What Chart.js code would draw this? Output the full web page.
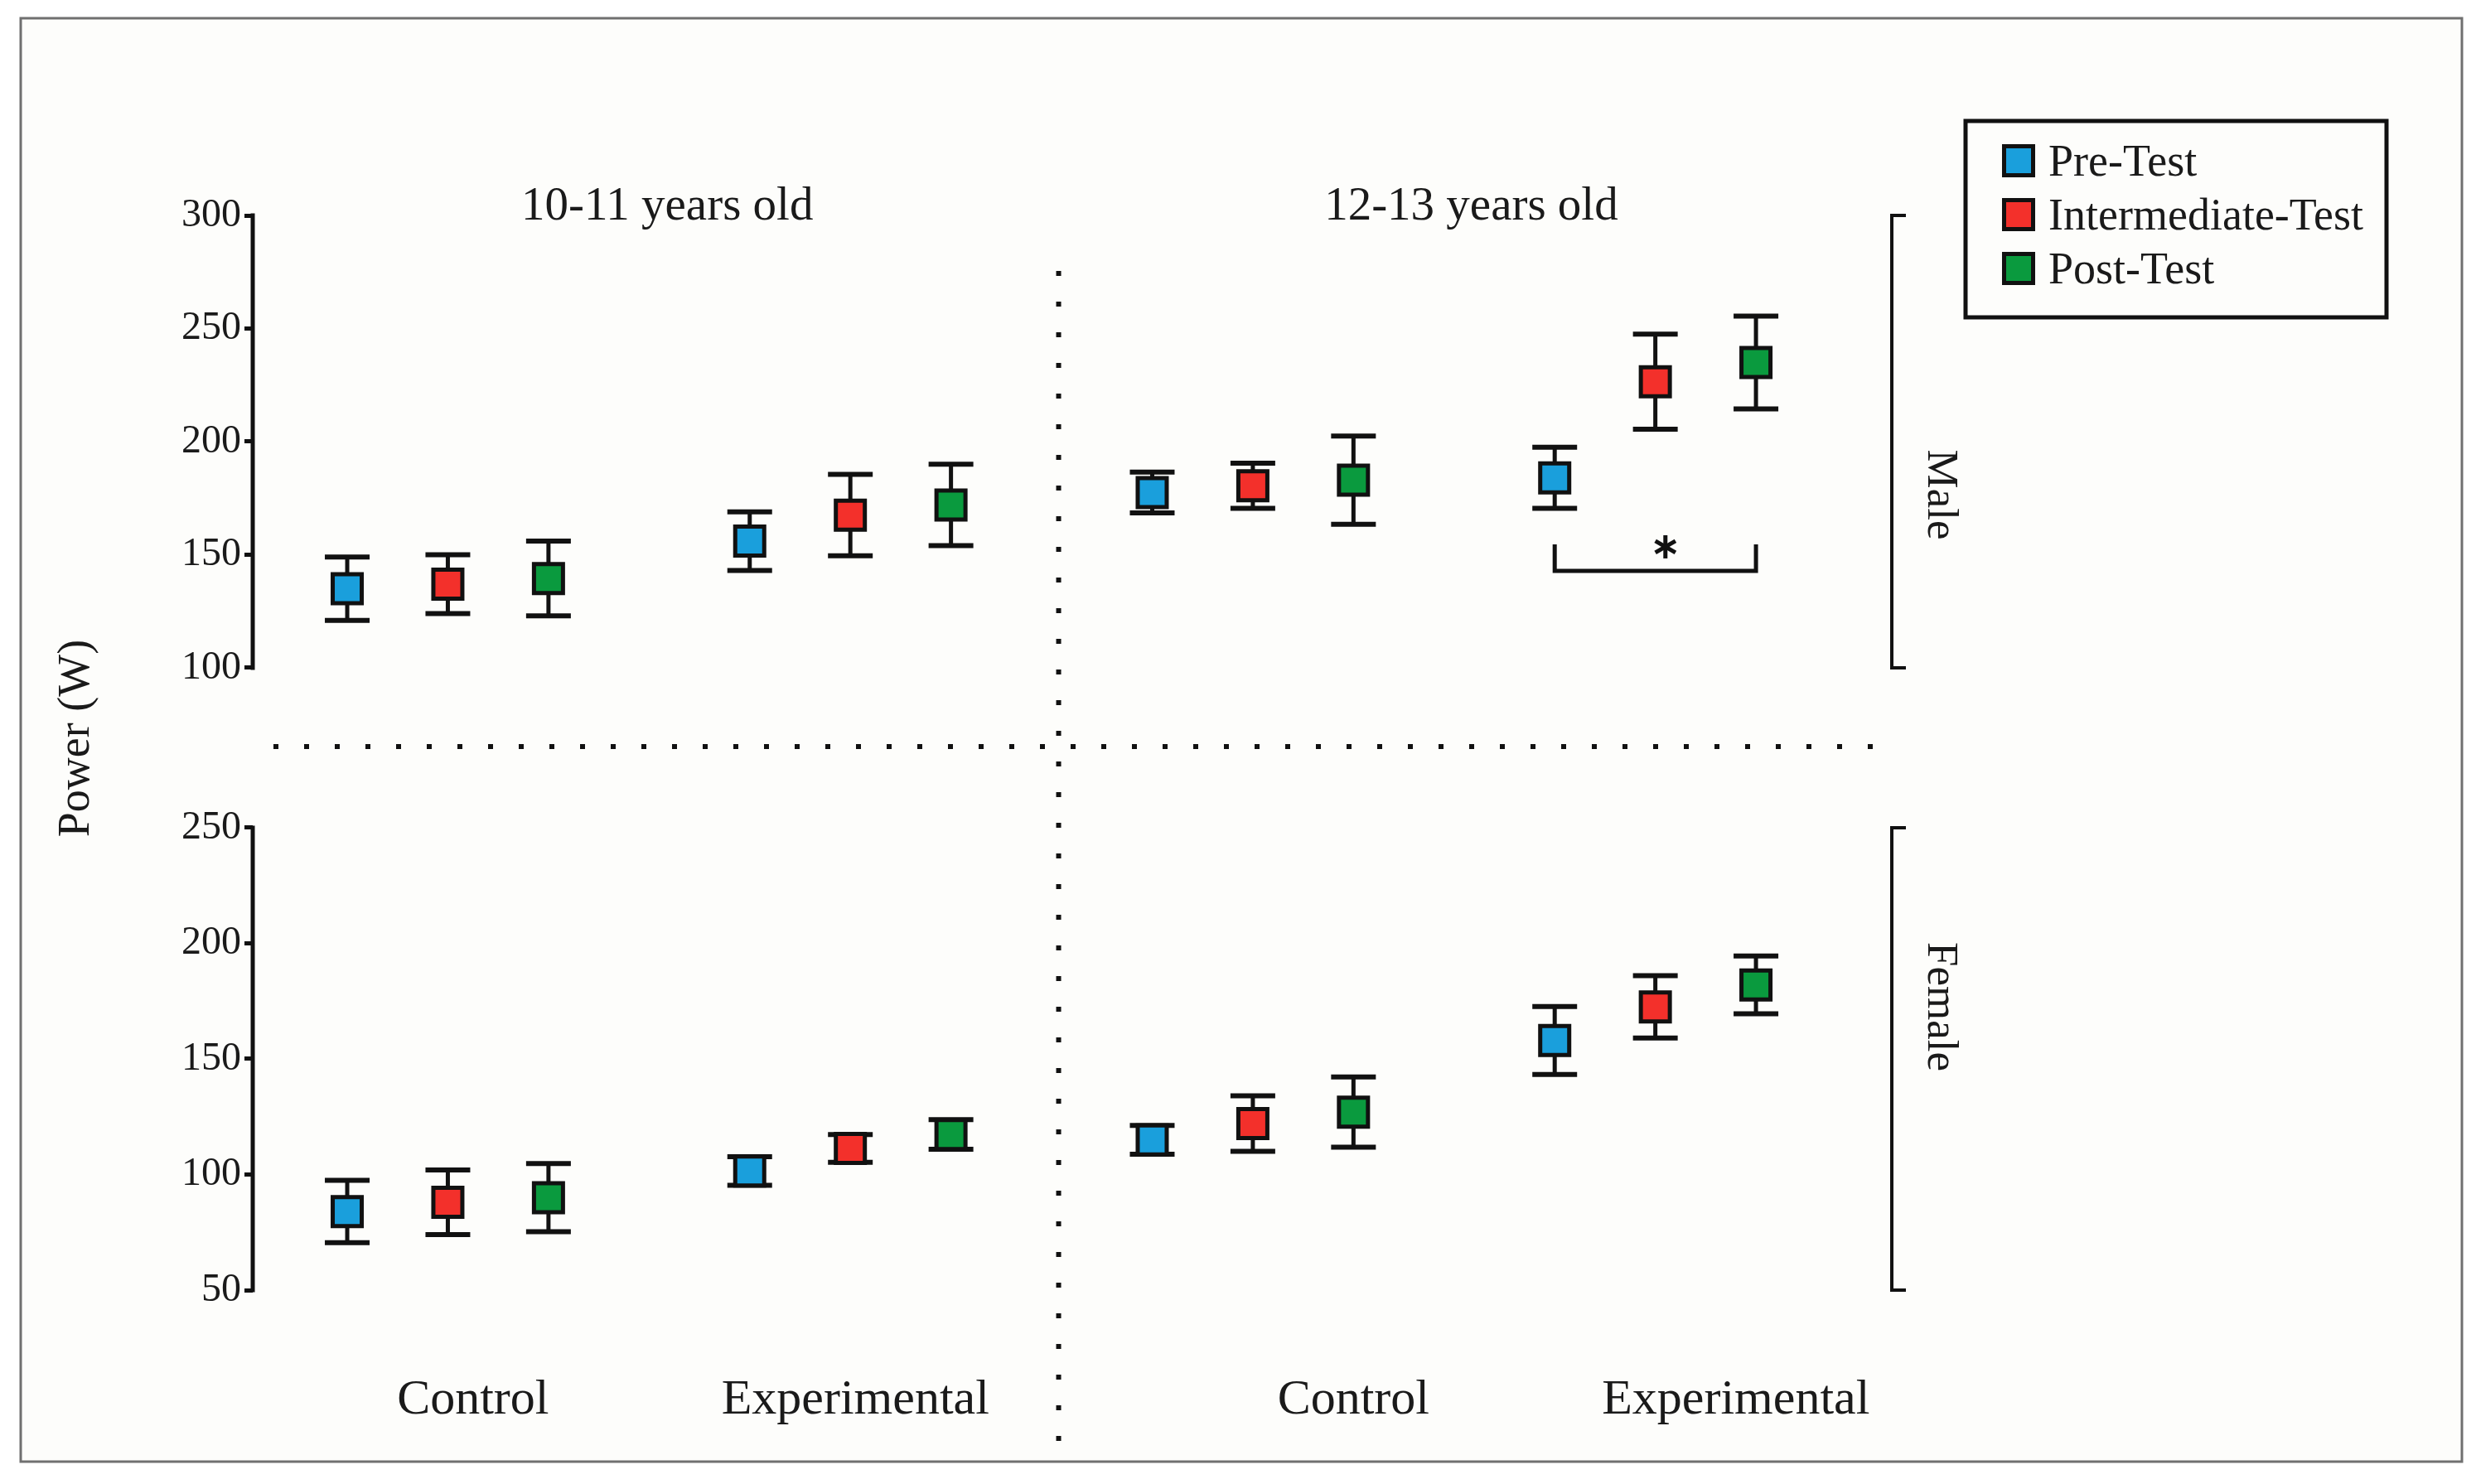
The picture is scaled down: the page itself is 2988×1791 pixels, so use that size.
<!DOCTYPE html>
<html lang="en">
<head>
  <meta charset="UTF-8" />
  <title>Power (W) by age group, sex and test</title>
  <script src="https://cdn.jsdelivr.net/npm/chart.js"></script>
  <style>
    html, body { margin: 0; padding: 0; background: #fff; }
    #wrap { width: 2988px; height: 1791px; position: relative; }
  </style>
</head>
<body>
<div id="wrap"><canvas id="powerChart"></canvas></div>

<script>
  // categories
  const ageGroups = ['10-11 years old', '12-13 years old'];
  const groups = ['Control', 'Experimental'];
  const tests = ['Pre-Test', 'Intermediate-Test', 'Post-Test'];
  const maleTicks = [100, 150, 200, 250, 300];
  const femaleTicks = [50, 100, 150, 200, 250];

  // order inside each array: 10-11 Control, 10-11 Experimental, 12-13 Control, 12-13 Experimental
  const malePre = [135, 156, 177.5, 184];
  const maleInt = [137, 167.5, 180.5, 226.5];
  const malePost = [139.5, 172, 183, 235];
  const maleSdPre = [14, 13, 9, 13.5];
  const maleSdInt = [13, 18, 10, 21];
  const maleSdPost = [16.5, 18, 19.5, 20.5];

  const femalePre = [84, 101.5, 115, 158];
  const femaleInt = [88, 111.3, 122, 172.5];
  const femalePost = [90, 117.3, 127, 182];
  const femaleSdPre = [13.5, 6.2, 6.2, 14.7];
  const femaleSdInt = [14, 6, 12, 13.5];
  const femaleSdPost = [14.7, 6.4, 15.2, 12.5];

  const colors = ['#1a9fdc', '#f3302b', '#0a9a3e'];
  const FONT = '"Liberation Serif", "Times New Roman", serif';
  const INK = '#1a1a1a';

  const panels = [
    { means: [malePre, maleInt, malePost], sds: [maleSdPre, maleSdInt, maleSdPost], axis: 'yTop' },
    { means: [femalePre, femaleInt, femalePost], sds: [femaleSdPre, femaleSdInt, femaleSdPost], axis: 'yBot' }
  ];

  const datasets = [];
  panels.forEach(p => {
    tests.forEach((t, ti) => {
      datasets.push({
        label: t,
        yAxisID: p.axis,
        // x: age block (8 units) + group (4 units) + test (1 unit)
        data: p.means[ti].map((v, j) => ({ x: Math.floor(j / 2) * 8 + (j % 2) * 4 + ti, y: v })),
        sd: p.sds[ti],
        backgroundColor: colors[ti],
        borderColor: '#111',
        borderWidth: 5,
        pointStyle: 'rect',
        pointRadius: 24.75,
        pointHoverRadius: 24.75,
        showLine: false
      });
    });
  });

  const categoryLabels = ageGroups.flatMap(() => groups);

  function line(ctx, x1, y1, x2, y2) {
    ctx.beginPath();
    ctx.moveTo(x1, y1);
    ctx.lineTo(x2, y2);
    ctx.stroke();
  }

  const errorBars = {
    id: 'errorBars',
    beforeDatasetsDraw(chart) {
      const ctx = chart.ctx;
      ctx.save();
      ctx.strokeStyle = '#111';
      chart.data.datasets.forEach((ds, i) => {
        const meta = chart.getDatasetMeta(i);
        const ys = chart.scales[ds.yAxisID];
        meta.data.forEach((pt, j) => {
          const v = ds.data[j].y, e = ds.sd[j];
          const top = ys.getPixelForValue(v + e);
          const bot = ys.getPixelForValue(v - e);
          ctx.lineWidth = 5;
          line(ctx, pt.x, top, pt.x, bot);
          ctx.lineWidth = 6;
          line(ctx, pt.x - 27, top, pt.x + 27, top);
          line(ctx, pt.x - 27, bot, pt.x + 27, bot);
        });
      });
      ctx.restore();
    }
  };

  const decorations = {
    id: 'decorations',
    beforeDraw(chart) {
      const ctx = chart.ctx;
      ctx.save();
      ctx.fillStyle = '#ffffff';
      ctx.fillRect(0, 0, chart.width, chart.height);
      ctx.fillStyle = '#fdfdfb';
      ctx.fillRect(25, 22, 2946, 1742);
      ctx.strokeStyle = '#707070';
      ctx.lineWidth = 3;
      ctx.strokeRect(25, 22, 2946, 1742);
      ctx.restore();
    },
    afterDraw(chart) {
      const ctx = chart.ctx;
      const { x, yTop, yBot } = chart.scales;
      const left = chart.chartArea.left;
      ctx.save();
      ctx.strokeStyle = '#111';
      ctx.fillStyle = INK;

      // y axis lines, only over the labelled range
      ctx.lineWidth = 5;
      line(ctx, left, yTop.getPixelForValue(300) - 2.5, left, yTop.getPixelForValue(100) + 2.5);
      line(ctx, left, yBot.getPixelForValue(250) - 2.5, left, yBot.getPixelForValue(50) + 2.5);

      // dotted separators
      ctx.setLineDash([6, 31]);
      ctx.lineWidth = 6;
      const sepX = x.getPixelForValue(7.07);
      line(ctx, sepX, 327, sepX, 1742);
      const sepY = yTop.bottom;
      line(ctx, 330, sepY, 2275, sepY);
      ctx.setLineDash([]);

      // age group titles
      ctx.font = '57px ' + FONT;
      ctx.textAlign = 'center';
      ctx.textBaseline = 'alphabetic';
      ctx.fillText(ageGroups[0], x.getPixelForValue(3.18), 265);
      ctx.fillText(ageGroups[1], x.getPixelForValue(11.17), 265);

      // y title
      ctx.save();
      ctx.font = '54px ' + FONT;
      ctx.translate(93, 891);
      ctx.rotate(-Math.PI / 2);
      ctx.textBaseline = 'middle';
      ctx.fillText('Power (W)', 0, 0);
      ctx.restore();

      // sex brackets on the right
      const bx = 2283;
      [[yTop, 300, 100, 'Male', 597], [yBot, 250, 50, 'Female', 1215]].forEach(([s, hi, lo, txt, ly]) => {
        const y1 = s.getPixelForValue(hi), y2 = s.getPixelForValue(lo);
        ctx.lineWidth = 4;
        ctx.beginPath();
        ctx.moveTo(bx + 17, y1);
        ctx.lineTo(bx, y1);
        ctx.lineTo(bx, y2);
        ctx.lineTo(bx + 17, y2);
        ctx.stroke();
        ctx.save();
        ctx.translate(2341, ly);
        ctx.rotate(Math.PI / 2);
        ctx.font = '53px ' + FONT;
        ctx.textAlign = 'center';
        ctx.textBaseline = 'middle';
        ctx.fillText(txt, 0, 0);
        ctx.restore();
      });

      // significance bracket (12-13 experimental, Pre vs Post)
      const sx1 = x.getPixelForValue(12), sx2 = x.getPixelForValue(14);
      const sy1 = yTop.getPixelForValue(154.6), sy2 = yTop.getPixelForValue(142.9);
      ctx.lineWidth = 5;
      ctx.beginPath();
      ctx.moveTo(sx1, sy1);
      ctx.lineTo(sx1, sy2);
      ctx.lineTo(sx2, sy2);
      ctx.lineTo(sx2, sy1);
      ctx.stroke();
      const cx = x.getPixelForValue(13.1), cy = yTop.getPixelForValue(153.5);
      ctx.lineWidth = 5;
      for (let k = 0; k < 3; k++) {
        const a = Math.PI / 2 + k * Math.PI / 3;
        line(ctx, cx - 14 * Math.cos(a), cy - 14 * Math.sin(a), cx + 14 * Math.cos(a), cy + 14 * Math.sin(a));
      }

      // legend
      ctx.lineWidth = 5;
      ctx.strokeRect(2372, 146, 508, 237);
      const rows = [194, 259, 324];
      ctx.font = '54px ' + FONT;
      ctx.textAlign = 'left';
      ctx.textBaseline = 'alphabetic';
      tests.forEach((t, i) => {
        ctx.fillStyle = colors[i];
        ctx.fillRect(2436 - 17.5, rows[i] - 17.5, 35, 35);
        ctx.strokeRect(2436 - 17.5, rows[i] - 17.5, 35, 35);
        ctx.fillStyle = INK;
        ctx.fillText(t, 2472, rows[i] + 18);
      });

      ctx.restore();
    }
  };

  const yGrid = { display: true, drawOnChartArea: false, drawTicks: true, tickLength: 10, tickWidth: 5, tickColor: '#111' };

  new Chart(document.getElementById('powerChart'), {
    type: 'scatter',
    data: { datasets: datasets },
    options: {
      responsive: true,
      maintainAspectRatio: false,
      devicePixelRatio: 1,
      animation: false,
      events: [],
      layout: { padding: { top: 260, left: 185, right: 705, bottom: 0 } },
      plugins: { legend: { display: false }, tooltip: { enabled: false } },
      scales: {
        x: {
          type: 'linear',
          position: 'bottom',
          bounds: 'data',
          min: -0.939,
          max: 15.35,
          grid: { display: false },
          border: { display: false },
          afterBuildTicks: s => { s.ticks = [1.25, 5.05, 10.0, 13.8].map(v => ({ value: v })); },
          afterFit: s => { s.height = 234; },
          ticks: {
            autoSkip: false,
            maxRotation: 0,
            padding: 89,
            color: INK,
            font: { family: FONT, size: 60 },
            callback: (v, i) => categoryLabels[i]
          }
        },
        yTop: {
          type: 'linear',
          position: 'left',
          stack: 'power',
          stackWeight: 641,
          weight: 1,
          bounds: 'data',
          min: 65.2,
          max: 300,
          grid: yGrid,
          border: { display: false },
          afterBuildTicks: s => { s.ticks = maleTicks.map(v => ({ value: v })); },
          afterFit: s => { s.width = 120; },
          ticks: { padding: 4, color: INK, font: { family: FONT, size: 48 } }
        },
        yBot: {
          type: 'linear',
          position: 'left',
          stack: 'power',
          stackWeight: 656,
          weight: 0,
          bounds: 'data',
          min: 50,
          max: 285.1,
          grid: yGrid,
          border: { display: false },
          afterBuildTicks: s => { s.ticks = femaleTicks.map(v => ({ value: v })); },
          afterFit: s => { s.width = 120; },
          ticks: { padding: 4, color: INK, font: { family: FONT, size: 48 } }
        }
      }
    },
    plugins: [errorBars, decorations]
  });
</script>
</body>
</html>
